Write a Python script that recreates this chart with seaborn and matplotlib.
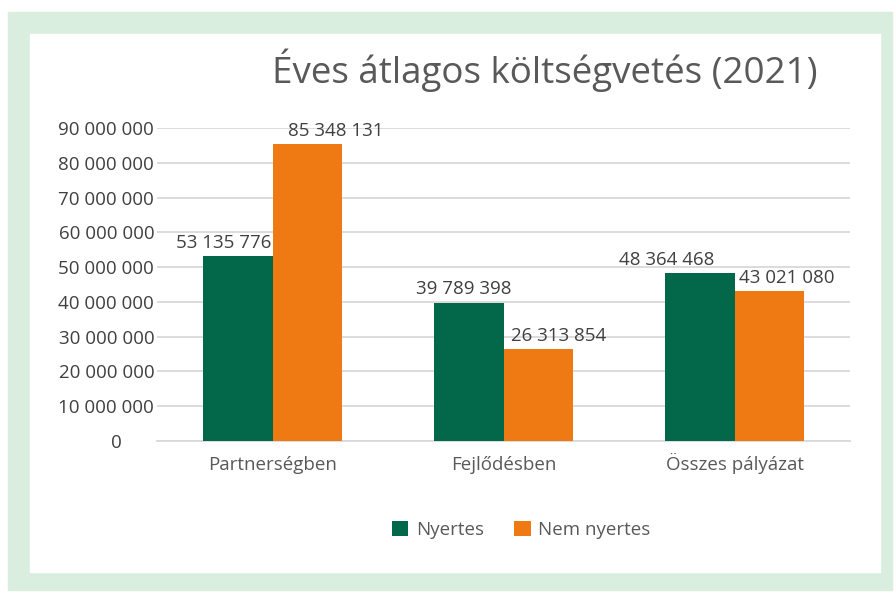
import pandas as pd
import matplotlib.pyplot as plt
import seaborn as sns
from matplotlib.patches import Rectangle
from matplotlib.ticker import FuncFormatter

# data
categories = ["Partnerségben", "Fejlődésben", "Összes pályázat"]
groups = ["Nyertes", "Nem nyertes"]
nyertes = [53135776, 39789398, 48364468]
nem_nyertes = [85348131, 26313854, 43021080]

df = pd.DataFrame({
    "kategoria": categories * 2,
    "csoport": [groups[0]] * 3 + [groups[1]] * 3,
    "ertek": nyertes + nem_nyertes,
})

sns.set_theme(style="white")
plt.rcParams["font.family"] = ["Open Sans", "DejaVu Sans"]

GREEN = "#03684a"
ORANGE = "#ef7912"
TXT = "#404040"
GRAY = "#595959"

fig = plt.figure(figsize=(8.96, 5.96), dpi=100)
W, H = 896, 596

# green frame + white panel
fig.add_artist(Rectangle((8 / W, 1 - 590 / H), 884 / W, 578 / H,
                         transform=fig.transFigure, color="#d9eedf", zorder=0))
fig.add_artist(Rectangle((30 / W, 1 - 572 / H), 850 / W, 538 / H,
                         transform=fig.transFigure, color="white", zorder=0))

ax = fig.add_axes([157 / W, 1 - 441 / H, 693 / W, 313 / H])
ax.patch.set_alpha(0)

sns.barplot(data=df, x="kategoria", y="ertek", hue="csoport",
            palette=[GREEN, ORANGE], width=0.6, gap=0, saturation=1,
            linewidth=0, ax=ax, zorder=3)

ax.set_ylim(0, 90_000_000)
ax.set_xlim(-0.5, 2.5)
ax.set_yticks(range(0, 90_000_001, 10_000_000))


def fmt(v, pos):
    if v == 0:
        return "0\u2007\u2007\u2007"
    return f"{int(v):,}".replace(",", " ")


ax.yaxis.set_major_formatter(FuncFormatter(fmt))
ax.grid(axis="y", color="#d9d9d9", linewidth=1.3, zorder=0)
for s in ["top", "right", "left"]:
    ax.spines[s].set_visible(False)
ax.spines["bottom"].set_color("#d9d9d9")
ax.spines["bottom"].set_linewidth(1.3)
ax.tick_params(axis="both", length=0)
ax.tick_params(axis="y", labelsize=13.5, labelcolor=TXT, pad=2)
ax.tick_params(axis="x", labelsize=13.5, labelcolor=GRAY, pad=21)
for lab in ax.get_xticklabels():
    lab.set_verticalalignment("baseline")
ax.set_xlabel("")
ax.set_ylabel("")

# value labels, nudged sideways like the original
nudges = [[-14, -5, -33], [29, 20, 18]]
for cont, nd in zip(ax.containers, nudges):
    labels = [f"{int(v.get_height()):,}".replace(",", " ") for v in cont]
    anns = ax.bar_label(cont, labels=labels, padding=3, fontsize=13.5,
                        color=TXT)
    for a, dx in zip(anns, nd):
        a.xyann = (dx * 0.72, a.xyann[1])

handles, labels = ax.get_legend_handles_labels()
ax.get_legend().remove()
fig.legend(handles, labels, loc="center", bbox_to_anchor=(521 / W, 1 - 530 / H),
           ncol=2, frameon=False, fontsize=13.5, labelcolor=GRAY,
           handlelength=0.9, handleheight=0.9, handletextpad=0.4,
           columnspacing=1.6)

fig.text(545 / W, 1 - 70 / H, "Éves átlagos költségvetés (2021)",
         ha="center", va="center", fontsize=26.5, color=GRAY)

fig.savefig("out.png", dpi=100)
